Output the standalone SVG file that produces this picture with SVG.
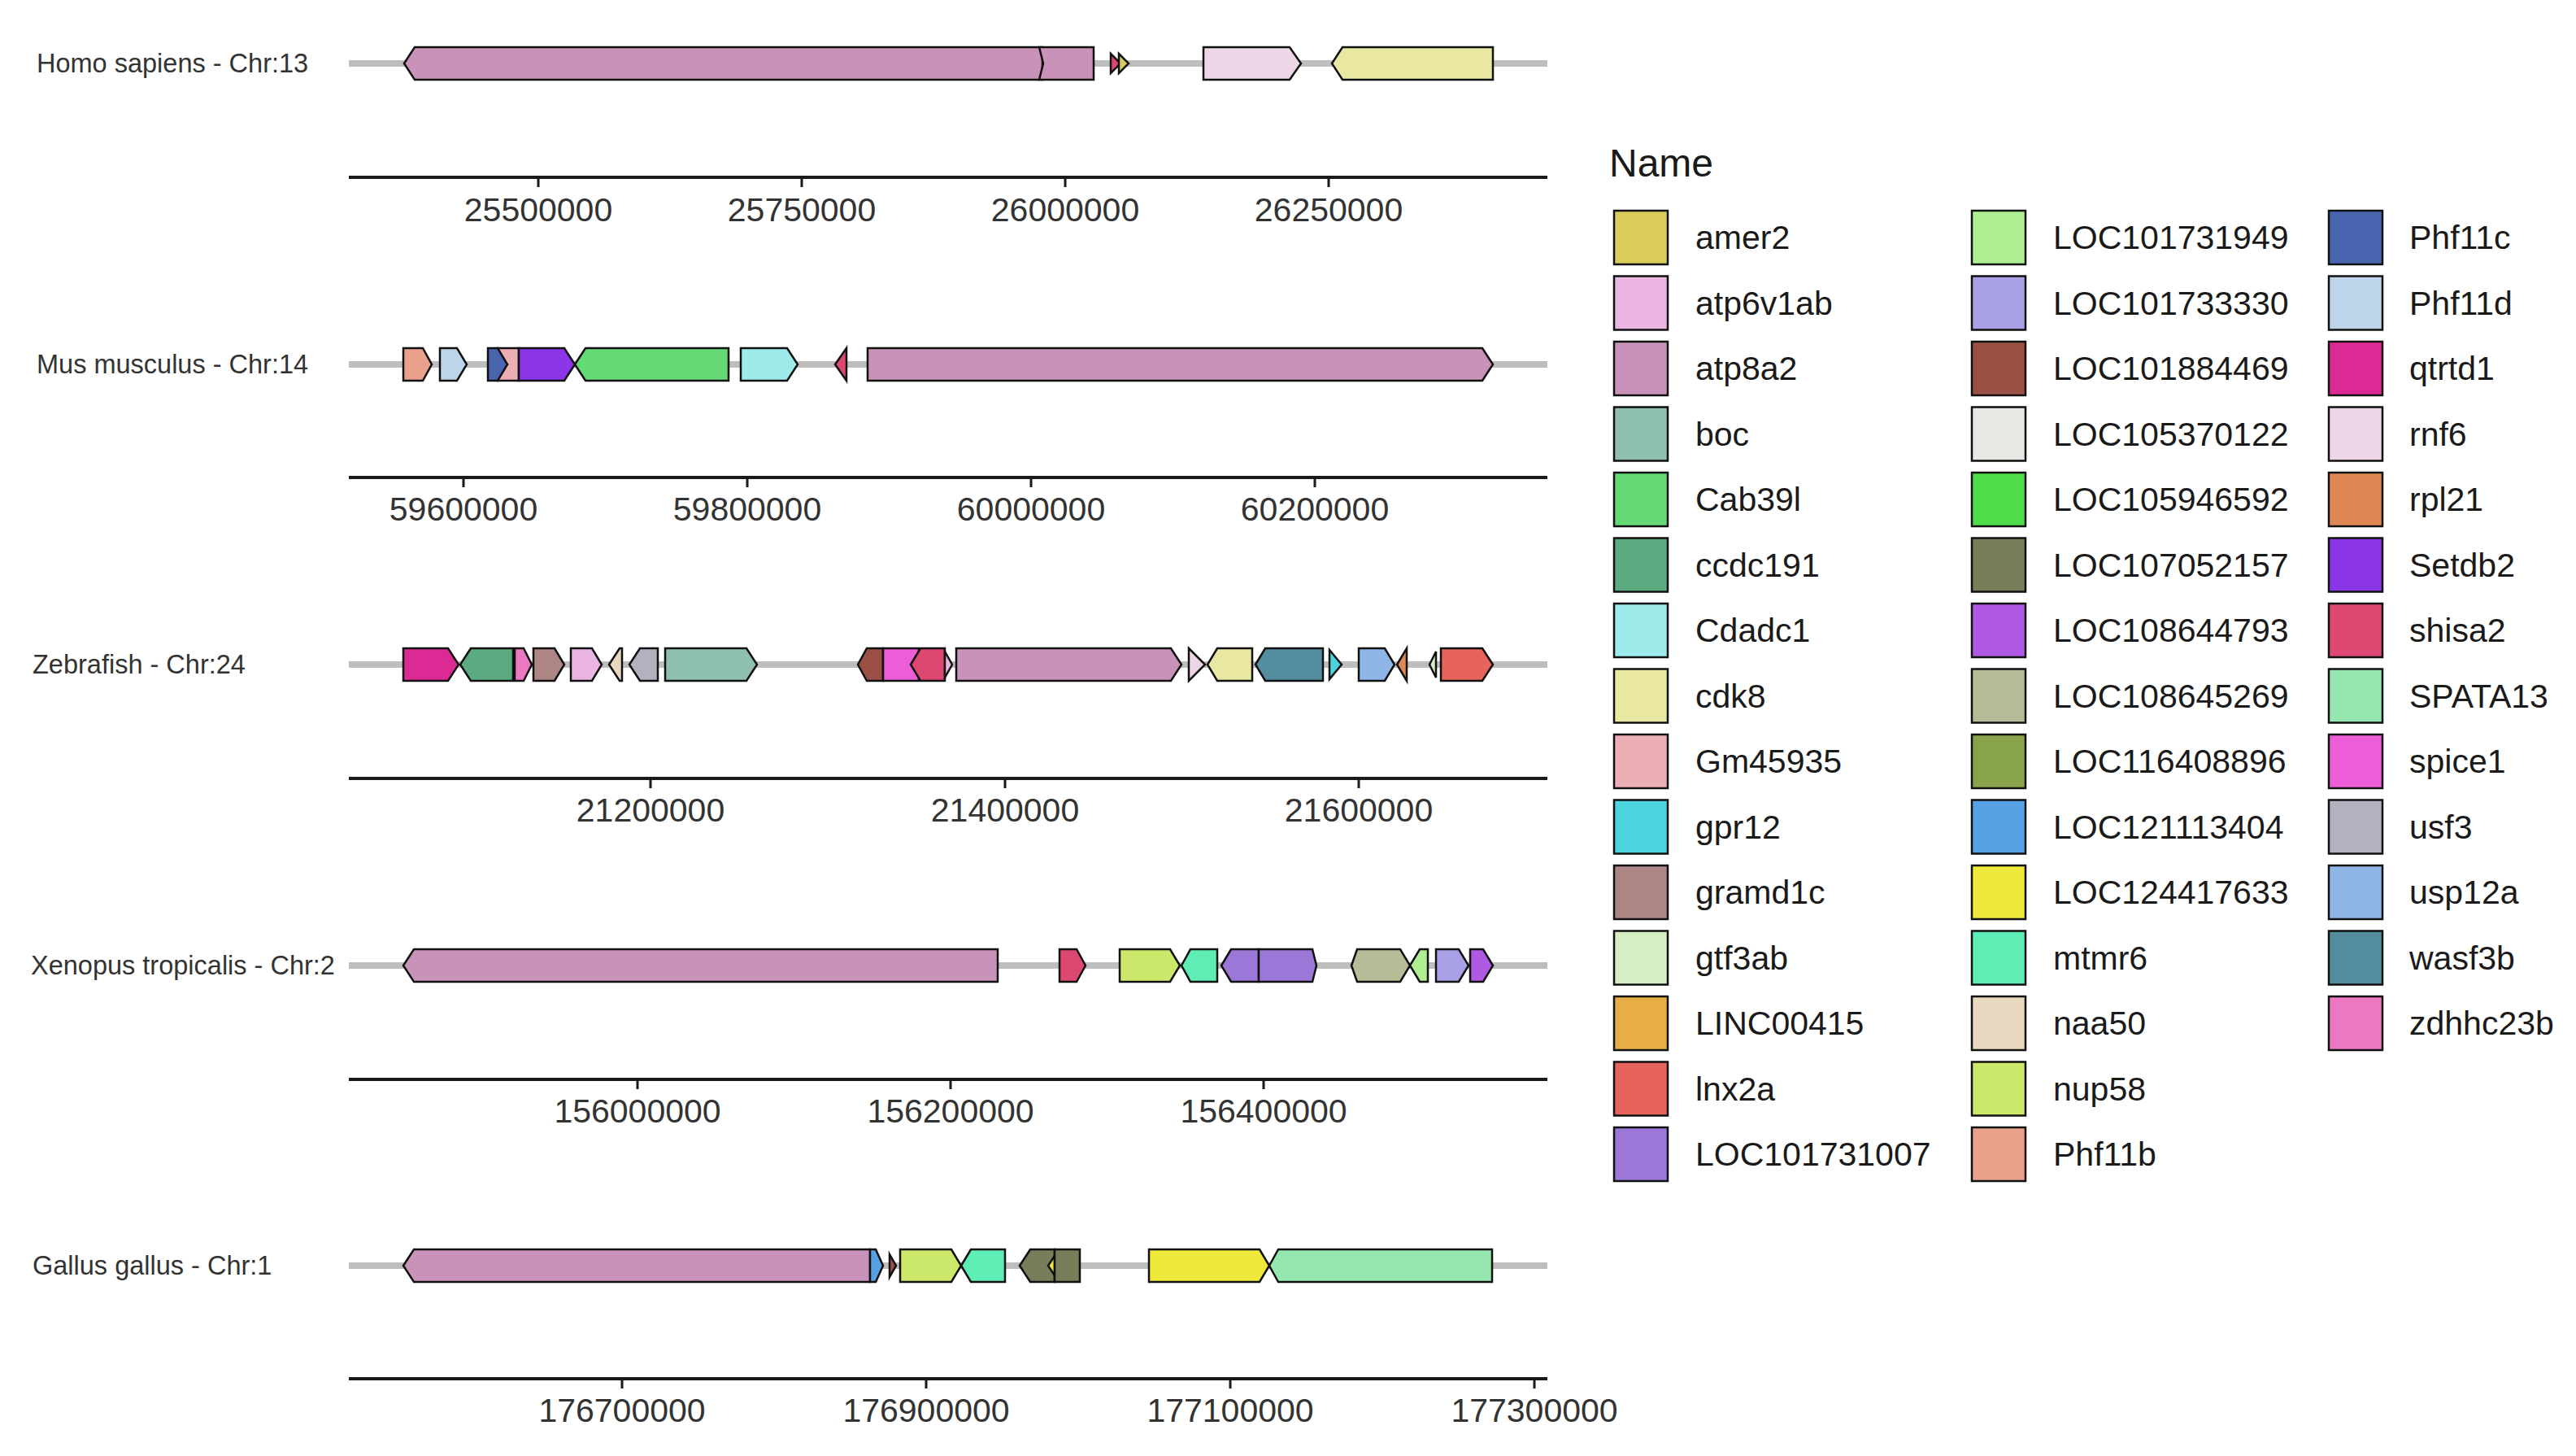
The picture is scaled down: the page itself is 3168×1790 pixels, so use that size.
<svg xmlns="http://www.w3.org/2000/svg" width="3168" height="1790" viewBox="0 0 3168 1790">
<style>
text{font-family:"Liberation Sans",Arial,sans-serif}
.lab{font-size:32.5px;fill:#333}
.tick{font-size:41px;fill:#333;text-anchor:middle}
.leg{font-size:41px;fill:#1a1a1a}
.ttl{font-size:48px;fill:#1a1a1a}
.trk{stroke:#bebebe;stroke-width:8;fill:none}
.ax{stroke:#1a1a1a;stroke-width:4;fill:none}
.tk{stroke:#1a1a1a;stroke-width:3}
.g,.sw{stroke:#111;stroke-width:2.5;stroke-linejoin:miter}
.amer2{fill:#D9CC5A}.atp6v1ab{fill:#EBB5E3}.atp8a2{fill:#C993B9}.boc{fill:#8FBFAE}.Cab39l{fill:#66D977}
.ccdc191{fill:#5BAA80}.Cdadc1{fill:#9DEBEB}.cdk8{fill:#E8E8A2}.Gm45935{fill:#EBAFB5}.gpr12{fill:#4CD4DF}
.gramd1c{fill:#AC8584}.gtf3ab{fill:#D6EEC4}.LINC00415{fill:#E6AE45}.lnx2a{fill:#E6645C}.LOC101731007{fill:#9B77D8}
.LOC101731949{fill:#AFEF92}.LOC101733330{fill:#A8A1E6}.LOC101884469{fill:#9A5045}.LOC105370122{fill:#E6E8E3}
.LOC105946592{fill:#4EDC4A}.LOC107052157{fill:#787D5A}.LOC108644793{fill:#B05AE3}.LOC108645269{fill:#B7BB97}
.LOC116408896{fill:#89A34A}.LOC121113404{fill:#55A1E4}.LOC124417633{fill:#EDE83A}.mtmr6{fill:#5EEDB4}
.naa50{fill:#E8D8BF}.nup58{fill:#CBE86A}.Phf11b{fill:#E9A18C}.Phf11c{fill:#4A65B0}.Phf11d{fill:#BDD5EA}
.qtrtd1{fill:#DB2A93}.rnf6{fill:#EDD7E6}.rpl21{fill:#E08855}.Setdb2{fill:#8A35E6}.shisa2{fill:#DD4872}
.SPATA13{fill:#96E6B0}.spice1{fill:#EC5ED7}.usf3{fill:#B4B0C0}.usp12a{fill:#90B5E7}.wasf3b{fill:#548D9E}.zdhhc23b{fill:#EC78C2}
</style>
<rect width="3168" height="1790" fill="#fff"/>

<g id="tracks">
<line class="trk" x1="429" y1="78" x2="1903" y2="78"/>
<line class="trk" x1="429" y1="448" x2="1903" y2="448"/>
<line class="trk" x1="429" y1="817" x2="1903" y2="817"/>
<line class="trk" x1="429" y1="1187" x2="1903" y2="1187"/>
<line class="trk" x1="429" y1="1556" x2="1903" y2="1556"/>
</g>

<g id="row-homo">
<text class="lab" x="45" y="89">Homo sapiens - Chr:13</text>
<g transform="translate(0,78)">
<path class="g atp8a2" d="M497,0 L510,-20 L1282,-20 L1282,20 L510,20 Z"/>
<path class="g atp8a2" d="M1278,-20 L1345,-20 L1345,20 L1278,20 L1283,0 Z"/>
<path class="g shisa2" d="M1366,-12 L1378,0 L1366,12 Z"/>
<path class="g amer2" d="M1376,-12 L1388,0 L1376,12 Z"/>
<path class="g rnf6" d="M1480,-20 L1586,-20 L1600,0 L1586,20 L1480,20 Z"/>
<path class="g cdk8" d="M1638,0 L1651,-20 L1836,-20 L1836,20 L1651,20 Z"/>
</g>
<g id="axis-homo">
<line class="ax" x1="429" y1="218" x2="1903" y2="218"/>
<line class="tk" x1="662" y1="218" x2="662" y2="230"/><text class="tick" x="662" y="272">25500000</text>
<line class="tk" x1="986" y1="218" x2="986" y2="230"/><text class="tick" x="986" y="272">25750000</text>
<line class="tk" x1="1310" y1="218" x2="1310" y2="230"/><text class="tick" x="1310" y="272">26000000</text>
<line class="tk" x1="1634" y1="218" x2="1634" y2="230"/><text class="tick" x="1634" y="272">26250000</text>
</g>
</g>

<g id="row-mus">
<text class="lab" x="45" y="459">Mus musculus - Chr:14</text>
<g transform="translate(0,448)">
<path class="g Phf11b" d="M496,-20 L520,-20 L531,0 L520,20 L496,20 Z"/>
<path class="g Phf11d" d="M541,-20 L562,-20 L574,0 L562,20 L541,20 Z"/>
<path class="g Gm45935" d="M612,-20 L638,-20 L638,20 L612,20 Z"/>
<path class="g Phf11c" d="M600,-20 L612,-20 L624,0 L612,20 L600,20 Z"/>
<path class="g Setdb2" d="M638,-20 L694,-20 L707,0 L694,20 L638,20 Z"/>
<path class="g Cab39l" d="M707,0 L720,-20 L896,-20 L896,20 L720,20 Z"/>
<path class="g Cdadc1" d="M911,-20 L968,-20 L981,0 L968,20 L911,20 Z"/>
<path class="g shisa2" d="M1027,0 L1041,-20 L1041,20 Z"/>
<path class="g atp8a2" d="M1067,-20 L1823,-20 L1836,0 L1823,20 L1067,20 Z"/>
</g>
<g id="axis-mus">
<line class="ax" x1="429" y1="587" x2="1903" y2="587"/>
<line class="tk" x1="570" y1="587" x2="570" y2="599"/><text class="tick" x="570" y="640">59600000</text>
<line class="tk" x1="919" y1="587" x2="919" y2="599"/><text class="tick" x="919" y="640">59800000</text>
<line class="tk" x1="1268" y1="587" x2="1268" y2="599"/><text class="tick" x="1268" y="640">60000000</text>
<line class="tk" x1="1617" y1="587" x2="1617" y2="599"/><text class="tick" x="1617" y="640">60200000</text>
</g>
</g>

<g id="row-zebrafish">
<text class="lab" x="40" y="828">Zebrafish - Chr:24</text>
<g transform="translate(0,817)">
<path class="g qtrtd1" d="M496,-20 L551,-20 L564,0 L551,20 L496,20 Z"/>
<path class="g ccdc191" d="M566,0 L579,-20 L631,-20 L631,20 L579,20 Z"/>
<path class="g zdhhc23b" d="M633,-20 L644,-20 L654,0 L644,20 L633,20 Z"/>
<path class="g gramd1c" d="M656,-20 L682,-20 L694,0 L682,20 L656,20 Z"/>
<path class="g atp6v1ab" d="M702,-20 L728,-20 L740,0 L728,20 L702,20 Z"/>
<path class="g naa50" d="M749,0 L762,-20 L765,-20 L765,20 L762,20 Z"/>
<path class="g usf3" d="M774,0 L787,-20 L809,-20 L809,20 L787,20 Z"/>
<path class="g boc" d="M818,-20 L918,-20 L931,0 L918,20 L818,20 Z"/>
<path class="g LOC101884469" d="M1055,0 L1066,-20 L1086,-20 L1086,20 L1066,20 Z"/>
<path class="g spice1" d="M1086,-20 L1130,-20 L1130,20 L1086,20 Z"/>
<path class="g shisa2" d="M1120,0 L1132,-20 L1162,-20 L1162,20 L1132,20 Z"/>
<path class="g atp6v1ab" d="M1162,-16 L1171,0 L1162,16 Z"/>
<path class="g atp8a2" d="M1176,-20 L1440,-20 L1453,0 L1440,20 L1176,20 Z"/>
<path class="g rnf6" d="M1462,-20 L1482,0 L1462,20 Z"/>
<path class="g cdk8" d="M1485,0 L1497,-20 L1540,-20 L1540,20 L1497,20 Z"/>
<path class="g wasf3b" d="M1544,0 L1556,-20 L1627,-20 L1627,20 L1556,20 Z"/>
<path class="g gpr12" d="M1635,-18 L1650,0 L1635,18 Z"/>
<path class="g usp12a" d="M1671,-20 L1703,-20 L1715,0 L1703,20 L1671,20 Z"/>
<path class="g rpl21" d="M1718,0 L1730,-20 L1730,20 Z"/>
<path class="g gtf3ab" d="M1758,0 L1766,-16 L1766,16 Z"/>
<path class="g lnx2a" d="M1772,-20 L1823,-20 L1836,0 L1823,20 L1772,20 Z"/>
</g>
<g id="axis-zebrafish">
<line class="ax" x1="429" y1="957" x2="1903" y2="957"/>
<line class="tk" x1="800" y1="957" x2="800" y2="969"/><text class="tick" x="800" y="1010">21200000</text>
<line class="tk" x1="1236" y1="957" x2="1236" y2="969"/><text class="tick" x="1236" y="1010">21400000</text>
<line class="tk" x1="1671" y1="957" x2="1671" y2="969"/><text class="tick" x="1671" y="1010">21600000</text>
</g>
</g>

<g id="row-xenopus">
<text class="lab" x="38" y="1198">Xenopus tropicalis - Chr:2</text>
<g transform="translate(0,1187)">
<path class="g atp8a2" d="M496,0 L509,-20 L1227,-20 L1227,20 L509,20 Z"/>
<path class="g shisa2" d="M1303,-20 L1324,-20 L1335,0 L1324,20 L1303,20 Z"/>
<path class="g nup58" d="M1377,-20 L1439,-20 L1451,0 L1439,20 L1377,20 Z"/>
<path class="g mtmr6" d="M1453,0 L1464,-20 L1497,-20 L1497,20 L1464,20 Z"/>
<path class="g LOC101731007" d="M1502,0 L1514,-20 L1548,-20 L1548,20 L1514,20 Z"/>
<path class="g LOC101731007" d="M1548,-20 L1614,-20 L1619,0 L1614,20 L1548,20 Z"/>
<path class="g LOC108645269" d="M1662,0 L1669,-20 L1722,-20 L1734,0 L1722,20 L1669,20 Z"/>
<path class="g LOC101731949" d="M1734,0 L1746,-20 L1756,-20 L1756,20 L1746,20 Z"/>
<path class="g LOC101733330" d="M1766,-20 L1794,-20 L1806,0 L1794,20 L1766,20 Z"/>
<path class="g LOC108644793" d="M1808,-20 L1824,-20 L1836,0 L1824,20 L1808,20 Z"/>
</g>
<g id="axis-xenopus">
<line class="ax" x1="429" y1="1327" x2="1903" y2="1327"/>
<line class="tk" x1="784" y1="1327" x2="784" y2="1339"/><text class="tick" x="784" y="1380">156000000</text>
<line class="tk" x1="1169" y1="1327" x2="1169" y2="1339"/><text class="tick" x="1169" y="1380">156200000</text>
<line class="tk" x1="1554" y1="1327" x2="1554" y2="1339"/><text class="tick" x="1554" y="1380">156400000</text>
</g>
</g>

<g id="row-gallus">
<text class="lab" x="40" y="1567">Gallus gallus - Chr:1</text>
<g transform="translate(0,1556)">
<path class="g atp8a2" d="M496,0 L509,-20 L1070,-20 L1070,20 L509,20 Z"/>
<path class="g LOC121113404" d="M1070,-20 L1077,-20 L1086,0 L1077,20 L1070,20 Z"/>
<path class="g LOC101884469" d="M1094,-14 L1102,0 L1094,14 Z"/>
<path class="g nup58" d="M1107,-20 L1170,-20 L1182,0 L1170,20 L1107,20 Z"/>
<path class="g mtmr6" d="M1182,0 L1194,-20 L1236,-20 L1236,20 L1194,20 Z"/>
<path class="g LOC107052157" d="M1254,0 L1267,-20 L1297,-20 L1297,20 L1267,20 Z"/>
<path class="g LOC124417633" d="M1289,0 L1297,-12 L1297,12 Z"/>
<path class="g LOC107052157" d="M1297,-20 L1328,-20 L1328,20 L1297,20 Z"/>
<path class="g LOC124417633" d="M1413,-20 L1549,-20 L1561,0 L1549,20 L1413,20 Z"/>
<path class="g SPATA13" d="M1561,0 L1572,-20 L1835,-20 L1835,20 L1572,20 Z"/>
</g>
<g id="axis-gallus">
<line class="ax" x1="429" y1="1695" x2="1903" y2="1695"/>
<line class="tk" x1="765" y1="1695" x2="765" y2="1707"/><text class="tick" x="765" y="1748">176700000</text>
<line class="tk" x1="1139" y1="1695" x2="1139" y2="1707"/><text class="tick" x="1139" y="1748">176900000</text>
<line class="tk" x1="1513" y1="1695" x2="1513" y2="1707"/><text class="tick" x="1513" y="1748">177100000</text>
<line class="tk" x1="1887" y1="1695" x2="1887" y2="1707"/><text class="tick" x="1887" y="1748">177300000</text>
</g>
</g>

<g id="legend">
<text class="ttl" x="1979" y="217">Name</text>
<g id="leg-amer2" transform="translate(1985,259)"><rect class="sw amer2" width="66" height="66"/><text class="leg" x="100" y="47">amer2</text></g>
<g id="leg-atp6v1ab" transform="translate(1985,339.5)"><rect class="sw atp6v1ab" width="66" height="66"/><text class="leg" x="100" y="47">atp6v1ab</text></g>
<g id="leg-atp8a2" transform="translate(1985,420)"><rect class="sw atp8a2" width="66" height="66"/><text class="leg" x="100" y="47">atp8a2</text></g>
<g id="leg-boc" transform="translate(1985,500.5)"><rect class="sw boc" width="66" height="66"/><text class="leg" x="100" y="47">boc</text></g>
<g id="leg-Cab39l" transform="translate(1985,581)"><rect class="sw Cab39l" width="66" height="66"/><text class="leg" x="100" y="47">Cab39l</text></g>
<g id="leg-ccdc191" transform="translate(1985,661.5)"><rect class="sw ccdc191" width="66" height="66"/><text class="leg" x="100" y="47">ccdc191</text></g>
<g id="leg-Cdadc1" transform="translate(1985,742)"><rect class="sw Cdadc1" width="66" height="66"/><text class="leg" x="100" y="47">Cdadc1</text></g>
<g id="leg-cdk8" transform="translate(1985,822.5)"><rect class="sw cdk8" width="66" height="66"/><text class="leg" x="100" y="47">cdk8</text></g>
<g id="leg-Gm45935" transform="translate(1985,903)"><rect class="sw Gm45935" width="66" height="66"/><text class="leg" x="100" y="47">Gm45935</text></g>
<g id="leg-gpr12" transform="translate(1985,983.5)"><rect class="sw gpr12" width="66" height="66"/><text class="leg" x="100" y="47">gpr12</text></g>
<g id="leg-gramd1c" transform="translate(1985,1064)"><rect class="sw gramd1c" width="66" height="66"/><text class="leg" x="100" y="47">gramd1c</text></g>
<g id="leg-gtf3ab" transform="translate(1985,1144.5)"><rect class="sw gtf3ab" width="66" height="66"/><text class="leg" x="100" y="47">gtf3ab</text></g>
<g id="leg-LINC00415" transform="translate(1985,1225)"><rect class="sw LINC00415" width="66" height="66"/><text class="leg" x="100" y="47">LINC00415</text></g>
<g id="leg-lnx2a" transform="translate(1985,1305.5)"><rect class="sw lnx2a" width="66" height="66"/><text class="leg" x="100" y="47">lnx2a</text></g>
<g id="leg-LOC101731007" transform="translate(1985,1386)"><rect class="sw LOC101731007" width="66" height="66"/><text class="leg" x="100" y="47">LOC101731007</text></g>

<g id="leg-LOC101731949" transform="translate(2425,259)"><rect class="sw LOC101731949" width="66" height="66"/><text class="leg" x="100" y="47">LOC101731949</text></g>
<g id="leg-LOC101733330" transform="translate(2425,339.5)"><rect class="sw LOC101733330" width="66" height="66"/><text class="leg" x="100" y="47">LOC101733330</text></g>
<g id="leg-LOC101884469" transform="translate(2425,420)"><rect class="sw LOC101884469" width="66" height="66"/><text class="leg" x="100" y="47">LOC101884469</text></g>
<g id="leg-LOC105370122" transform="translate(2425,500.5)"><rect class="sw LOC105370122" width="66" height="66"/><text class="leg" x="100" y="47">LOC105370122</text></g>
<g id="leg-LOC105946592" transform="translate(2425,581)"><rect class="sw LOC105946592" width="66" height="66"/><text class="leg" x="100" y="47">LOC105946592</text></g>
<g id="leg-LOC107052157" transform="translate(2425,661.5)"><rect class="sw LOC107052157" width="66" height="66"/><text class="leg" x="100" y="47">LOC107052157</text></g>
<g id="leg-LOC108644793" transform="translate(2425,742)"><rect class="sw LOC108644793" width="66" height="66"/><text class="leg" x="100" y="47">LOC108644793</text></g>
<g id="leg-LOC108645269" transform="translate(2425,822.5)"><rect class="sw LOC108645269" width="66" height="66"/><text class="leg" x="100" y="47">LOC108645269</text></g>
<g id="leg-LOC116408896" transform="translate(2425,903)"><rect class="sw LOC116408896" width="66" height="66"/><text class="leg" x="100" y="47">LOC116408896</text></g>
<g id="leg-LOC121113404" transform="translate(2425,983.5)"><rect class="sw LOC121113404" width="66" height="66"/><text class="leg" x="100" y="47">LOC121113404</text></g>
<g id="leg-LOC124417633" transform="translate(2425,1064)"><rect class="sw LOC124417633" width="66" height="66"/><text class="leg" x="100" y="47">LOC124417633</text></g>
<g id="leg-mtmr6" transform="translate(2425,1144.5)"><rect class="sw mtmr6" width="66" height="66"/><text class="leg" x="100" y="47">mtmr6</text></g>
<g id="leg-naa50" transform="translate(2425,1225)"><rect class="sw naa50" width="66" height="66"/><text class="leg" x="100" y="47">naa50</text></g>
<g id="leg-nup58" transform="translate(2425,1305.5)"><rect class="sw nup58" width="66" height="66"/><text class="leg" x="100" y="47">nup58</text></g>
<g id="leg-Phf11b" transform="translate(2425,1386)"><rect class="sw Phf11b" width="66" height="66"/><text class="leg" x="100" y="47">Phf11b</text></g>

<g id="leg-Phf11c" transform="translate(2864,259)"><rect class="sw Phf11c" width="66" height="66"/><text class="leg" x="99" y="47">Phf11c</text></g>
<g id="leg-Phf11d" transform="translate(2864,339.5)"><rect class="sw Phf11d" width="66" height="66"/><text class="leg" x="99" y="47">Phf11d</text></g>
<g id="leg-qtrtd1" transform="translate(2864,420)"><rect class="sw qtrtd1" width="66" height="66"/><text class="leg" x="99" y="47">qtrtd1</text></g>
<g id="leg-rnf6" transform="translate(2864,500.5)"><rect class="sw rnf6" width="66" height="66"/><text class="leg" x="99" y="47">rnf6</text></g>
<g id="leg-rpl21" transform="translate(2864,581)"><rect class="sw rpl21" width="66" height="66"/><text class="leg" x="99" y="47">rpl21</text></g>
<g id="leg-Setdb2" transform="translate(2864,661.5)"><rect class="sw Setdb2" width="66" height="66"/><text class="leg" x="99" y="47">Setdb2</text></g>
<g id="leg-shisa2" transform="translate(2864,742)"><rect class="sw shisa2" width="66" height="66"/><text class="leg" x="99" y="47">shisa2</text></g>
<g id="leg-SPATA13" transform="translate(2864,822.5)"><rect class="sw SPATA13" width="66" height="66"/><text class="leg" x="99" y="47">SPATA13</text></g>
<g id="leg-spice1" transform="translate(2864,903)"><rect class="sw spice1" width="66" height="66"/><text class="leg" x="99" y="47">spice1</text></g>
<g id="leg-usf3" transform="translate(2864,983.5)"><rect class="sw usf3" width="66" height="66"/><text class="leg" x="99" y="47">usf3</text></g>
<g id="leg-usp12a" transform="translate(2864,1064)"><rect class="sw usp12a" width="66" height="66"/><text class="leg" x="99" y="47">usp12a</text></g>
<g id="leg-wasf3b" transform="translate(2864,1144.5)"><rect class="sw wasf3b" width="66" height="66"/><text class="leg" x="99" y="47">wasf3b</text></g>
<g id="leg-zdhhc23b" transform="translate(2864,1225)"><rect class="sw zdhhc23b" width="66" height="66"/><text class="leg" x="99" y="47">zdhhc23b</text></g>
</g>
</svg>
